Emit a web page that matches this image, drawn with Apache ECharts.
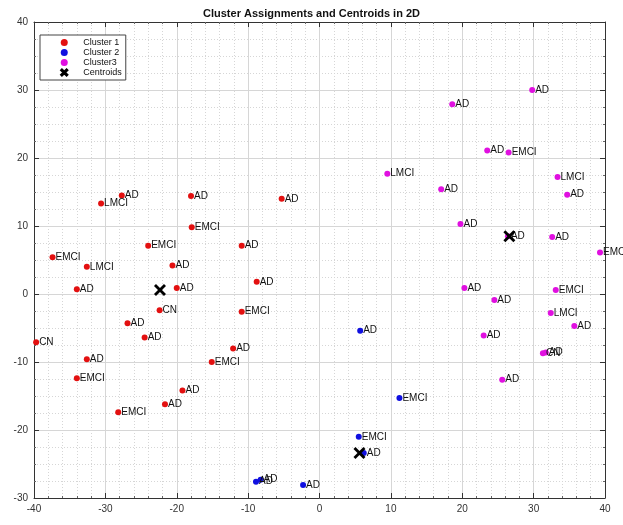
<!DOCTYPE html>
<html>
<head>
<meta charset="utf-8">
<script src="https://cdn.jsdelivr.net/npm/echarts@6/dist/echarts.min.js"></script>
<style>
  html, body { margin: 0; padding: 0; background: #fff; }
  #chart { width: 623px; height: 525px; }
</style>
</head>
<body>
<div id="chart"></div>
<script>
// Cluster 1 (red)
const cluster1X = [-27.7, -30.6, -18.0, -5.3, -17.9, -24.0, -10.9, -37.4, -32.6, -20.6, -8.8, -34.0, -20.0,
  -22.4, -10.9, -26.9, -24.5, -39.7, -12.1, -32.6, -15.1, -34.0, -19.2, -21.65, -28.2];
const cluster1Y = [14.5, 13.3, 14.4, 14.0, 9.8, 7.1, 7.1, 5.4, 4.0, 4.2, 1.8, 0.7, 0.9,
  -2.4, -2.6, -4.3, -6.4, -7.1, -8.0, -9.6, -10.0, -12.4, -14.2, -16.2, -17.4];
const cluster1Labels = ['AD', 'LMCI', 'AD', 'AD', 'EMCI', 'EMCI', 'AD', 'EMCI', 'LMCI', 'AD', 'AD', 'AD', 'AD',
  'CN', 'EMCI', 'AD', 'AD', 'CN', 'AD', 'AD', 'EMCI', 'EMCI', 'AD', 'AD', 'EMCI'];

// Cluster 2 (blue)
const cluster2X = [5.7, 11.2, 5.5, 6.2, -8.9, -8.25, -2.3];
const cluster2Y = [-5.4, -15.3, -21.0, -23.4, -27.6, -27.3, -28.1];
const cluster2Labels = ['AD', 'EMCI', 'EMCI', 'AD', 'AD', 'AD', 'AD'];

// Cluster 3 (magenta)
const cluster3X = [29.8, 18.6, 23.5, 26.5, 9.5, 33.35, 17.05, 34.7, 19.75, 26.4, 32.6, 39.3,
  20.3, 33.1, 24.5, 32.4, 35.7, 23.0, 31.3, 31.7, 25.6];
const cluster3Y = [30.0, 27.9, 21.1, 20.8, 17.7, 17.2, 15.4, 14.6, 10.3, 8.5, 8.4, 6.1,
  0.9, 0.6, -0.9, -2.8, -4.7, -6.1, -8.7, -8.6, -12.6];
const cluster3Labels = ['AD', 'AD', 'AD', 'EMCI', 'LMCI', 'LMCI', 'AD', 'AD', 'AD', 'AD', 'AD', 'EMCI',
  'AD', 'EMCI', 'AD', 'LMCI', 'AD', 'AD', 'CN', 'AD', 'AD'];

// Centroids
const centroidX = [-22.35, 5.6, 26.6];
const centroidY = [0.6, -23.4, 8.5];

// Axis ranges and ticks
const xRange = [-40, 40];
const yRange = [-30, 40];
const tickStep = 10;

const FONT = 'Liberation Sans, Arial, sans-serif';

function points(xs, ys, labels) {
  return xs.map((x, i) => ({ value: [x, ys[i]], name: labels ? labels[i] : '' }));
}

const crossPath = 'path://M0,2 L2,0 L6,4 L10,0 L12,2 L8,6 L12,10 L10,12 L6,8 L2,12 L0,10 L4,6 Z';

function clusterSeries(name, color, xs, ys, labels) {
  return {
    name: name,
    type: 'scatter',
    symbol: 'circle',
    symbolSize: 6,
    itemStyle: { color: color, opacity: 1 },
    label: {
      show: true,
      position: 'right',
      distance: 0,
      formatter: p => p.name,
      color: '#111',
      fontFamily: FONT,
      fontSize: 10
    },
    emphasis: { disabled: true },
    data: points(xs, ys, labels)
  };
}

const majorLine = { show: true, lineStyle: { color: '#d6d6d6', width: 1 } };
const minorLine = { show: true, lineStyle: { color: '#d6d6d6', width: 1, type: [1, 2] } };

function xAxisDef(pos, showLabels) {
  return {
    type: 'value',
    position: pos,
    min: xRange[0], max: xRange[1], interval: tickStep,
    axisLine: { show: true, onZero: false, lineStyle: { color: '#333', width: 1 } },
    axisTick: { show: true, inside: true, length: 5, lineStyle: { color: '#333' } },
    minorTick: { show: true, splitNumber: 5, length: 2, lineStyle: { color: '#666' } },
    axisLabel: { show: showLabels, color: '#333', fontFamily: FONT, fontSize: 10, margin: 6 },
    splitLine: showLabels ? majorLine : { show: false },
    minorSplitLine: showLabels ? minorLine : { show: false }
  };
}

function yAxisDef(pos, showLabels) {
  return {
    type: 'value',
    position: pos,
    min: yRange[0], max: yRange[1], interval: tickStep,
    axisLine: { show: true, onZero: false, lineStyle: { color: '#333', width: 1 } },
    axisTick: { show: true, inside: true, length: 5, lineStyle: { color: '#333' } },
    minorTick: { show: true, splitNumber: 4, length: 2, lineStyle: { color: '#666' } },
    axisLabel: { show: showLabels, color: '#333', fontFamily: FONT, fontSize: 10, margin: 6 },
    splitLine: showLabels ? majorLine : { show: false },
    minorSplitLine: showLabels ? minorLine : { show: false }
  };
}

const chart = echarts.init(document.getElementById('chart'), null, { renderer: 'canvas' });

chart.setOption({
  animation: false,
  backgroundColor: '#fff',
  title: {
    text: 'Cluster Assignments and Centroids in 2D',
    left: 'center',
    top: 3,
    textStyle: { fontFamily: FONT, fontSize: 11, fontWeight: 'bold', color: '#111' }
  },
  grid: { left: 34, right: 18, top: 22, bottom: 27, containLabel: false },
  xAxis: [xAxisDef('bottom', true), xAxisDef('top', false)],
  yAxis: [yAxisDef('left', true), yAxisDef('right', false)],
  legend: {
    orient: 'vertical',
    left: 40,
    top: 35,
    padding: [3, 4, 3, 20],
    itemGap: 1,
    itemWidth: 24,
    itemHeight: 7,
    backgroundColor: '#fff',
    borderColor: '#444',
    borderWidth: 1,
    textStyle: { fontFamily: FONT, fontSize: 9, color: '#111', lineHeight: 8, padding: [0, 0, 0, 2] },
    data: [
      { name: 'Cluster 1', icon: 'circle' },
      { name: 'Cluster 2', icon: 'circle' },
      { name: 'Cluster3', icon: 'circle' },
      { name: 'Centroids', icon: crossPath, itemStyle: { color: '#000', borderColor: '#000', borderWidth: 1.5 } }
    ],
    selectedMode: false
  },
  series: [
    clusterSeries('Cluster 1', '#e31010', cluster1X, cluster1Y, cluster1Labels),
    clusterSeries('Cluster 2', '#1010e0', cluster2X, cluster2Y, cluster2Labels),
    clusterSeries('Cluster3', '#e010e0', cluster3X, cluster3Y, cluster3Labels),
    {
      name: 'Centroids',
      type: 'scatter',
      symbol: crossPath,
      symbolSize: 12,
      itemStyle: { color: '#000', opacity: 1 },
      emphasis: { disabled: true },
      z: 5,
      data: points(centroidX, centroidY)
    }
  ]
});
</script>
</body>
</html>
